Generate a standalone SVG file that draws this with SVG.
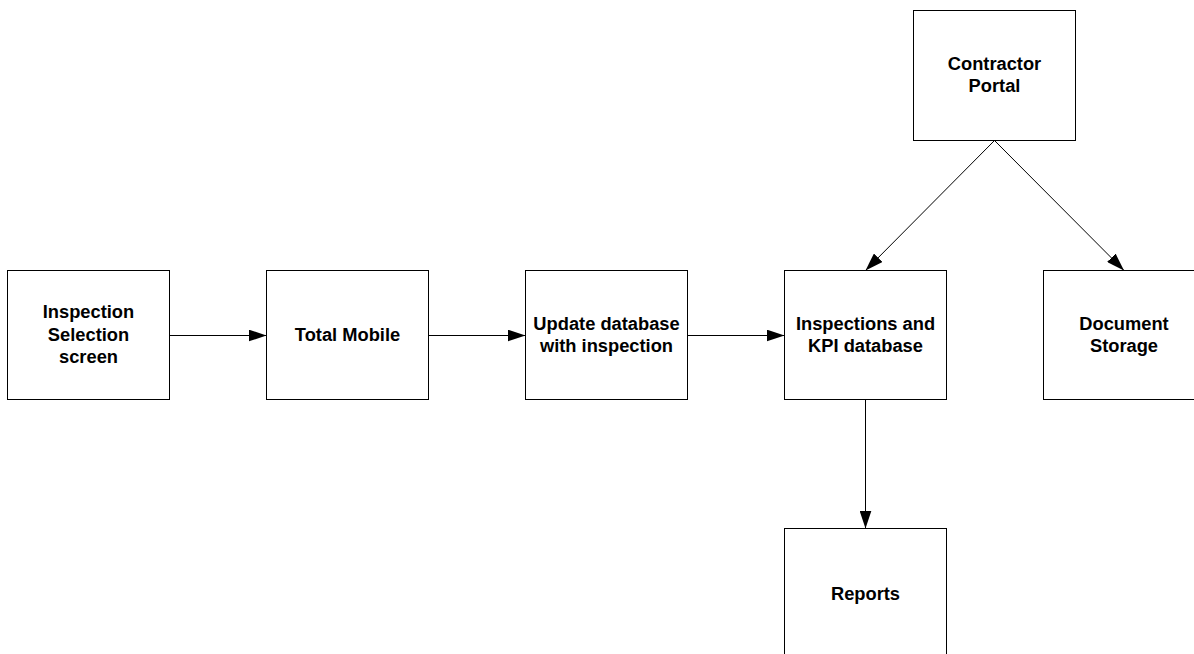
<svg xmlns="http://www.w3.org/2000/svg" width="1194" height="654" viewBox="0 0 1194 654">
<style>
.box{fill:#fff;stroke:#000;stroke-width:1}
.lbl{font-family:"Liberation Sans",Arial,sans-serif;font-weight:bold;font-size:18.3px;fill:#000;text-anchor:middle}
.con{stroke:#000;stroke-width:1;fill:none;marker-end:url(#ah)}
</style>
<defs>
<marker id="ah" viewBox="0 0 18 12" refX="18" refY="6" markerWidth="18" markerHeight="12" markerUnits="userSpaceOnUse" orient="auto">
<path d="M0,0 L18,6 L0,12 Z" fill="#000"/>
</marker>
</defs>
<rect width="1194" height="654" fill="#fff"/>
<g id="connectors">
<line class="con" x1="169.5" y1="335.5" x2="266.5" y2="335.5"/>
<line class="con" x1="428.5" y1="335.5" x2="525.5" y2="335.5"/>
<line class="con" x1="687.5" y1="335.5" x2="784.5" y2="335.5"/>
<line class="con" x1="994.5" y1="140.5" x2="865.5" y2="270.5"/>
<line class="con" x1="994.5" y1="140.5" x2="1124" y2="270.5"/>
<line class="con" x1="865.5" y1="399.5" x2="865.5" y2="528.5"/>
</g>
<g id="n1">
<rect class="box" x="7.5" y="270.5" width="162" height="129"/>
<text class="lbl" x="88.5" y="318">Inspection</text>
<text class="lbl" x="88.5" y="340.5">Selection</text>
<text class="lbl" x="88.5" y="363">screen</text>
</g>
<g id="n2">
<rect class="box" x="266.5" y="270.5" width="162" height="129"/>
<text class="lbl" x="347.5" y="341">Total Mobile</text>
</g>
<g id="n3">
<rect class="box" x="525.5" y="270.5" width="162" height="129"/>
<text class="lbl" x="606.5" y="329.5">Update database</text>
<text class="lbl" x="606.5" y="352">with inspection</text>
</g>
<g id="n4">
<rect class="box" x="784.5" y="270.5" width="162" height="129"/>
<text class="lbl" x="865.5" y="329.5">Inspections and</text>
<text class="lbl" x="865.5" y="352">KPI database</text>
</g>
<g id="n5">
<rect class="box" x="1043.5" y="270.5" width="162" height="129"/>
<text class="lbl" x="1124" y="329.5">Document</text>
<text class="lbl" x="1124" y="352">Storage</text>
</g>
<g id="n6">
<rect class="box" x="913.5" y="10.5" width="162" height="130"/>
<text class="lbl" x="994.5" y="69.5">Contractor</text>
<text class="lbl" x="994.5" y="92">Portal</text>
</g>
<g id="n7">
<rect class="box" x="784.5" y="528.5" width="162" height="130"/>
<text class="lbl" x="865.5" y="599.5">Reports</text>
</g>
</svg>
